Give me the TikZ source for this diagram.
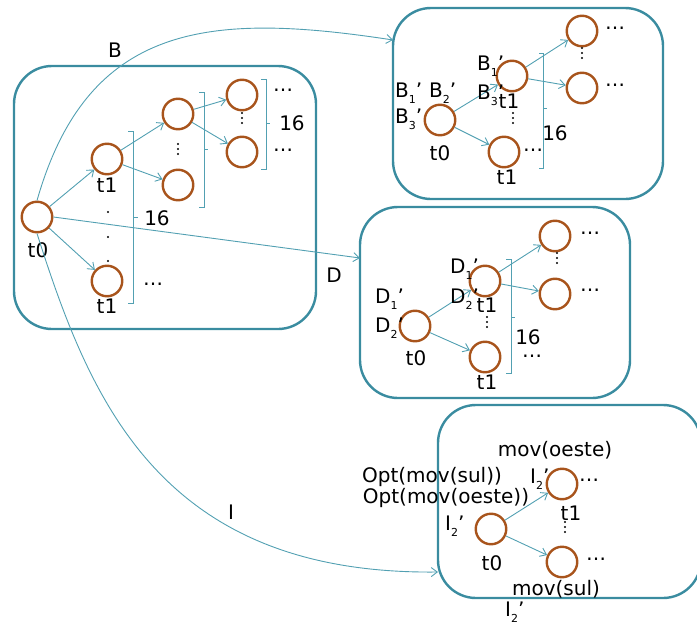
\documentclass[tikz,border=0pt]{standalone}
\usepackage{fontspec}
\setmainfont{DejaVu Sans}
\usetikzlibrary{arrows.meta}

\definecolor{frame}{RGB}{58,140,160}
\definecolor{link}{RGB}{82,160,178}
\definecolor{state}{RGB}{168,84,28}

% small lowered index used in the B, D and I labels
\newcommand\lowsub[1]{\raisebox{-0.32em}{\fontsize{11}{11}\selectfont #1}}

\tikzset{
  txt/.style={font=\fontsize{20}{24}\selectfont, inner sep=0pt},
  panel/.style={draw=frame, line width=2.4pt, rounded corners=38pt, inner sep=0pt},
  st/.style={circle, draw=state, line width=2.4pt, minimum size=30.5pt, inner sep=0pt},
  edge/.style={draw=link, line width=0.9pt, -{Straight Barb[length=6pt,width=9pt]}},
  brk/.style={draw=link, line width=1pt},
  vd/.pic={\fill (0,-5) circle (1.1pt) (0,0) circle (1.1pt) (0,5) circle (1.1pt);}
}

\begin{document}
\begin{tikzpicture}[x=1pt,y=-1pt]
\useasboundingbox (0,0) rectangle (697,624);

% ---------- panels ----------
\node[panel, minimum width=302pt, minimum height=263pt] (p1) at (165,197.5) {};
\node[panel, minimum width=270pt, minimum height=191pt] (p2) at (528,103.5) {};
\node[panel, minimum width=270pt, minimum height=191pt] (p3) at (495,302.5) {};
\node[panel, minimum width=263pt, minimum height=193pt] (p4) at (569.5,501.5) {};

\coordinate (inB) at (393,40);
\coordinate (inD) at (360,258);
\coordinate (inI) at (438,572);

% ---------- first tree ----------
\node[st] (a0) at (37,217) {};
\node[st] (a1) at (107,159) {};
\node[st] (a2) at (107,281) {};
\node[st] (a3) at (178,114) {};
\node[st] (a4) at (178,185) {};
\node[st] (a5) at (242,95) {};
\node[st] (a6) at (242,152) {};

\node[txt] (a0l) at (38,250) {t0};
\node[txt] (a1l) at (107,185) {t1};
\node[txt] (a2l) at (107,306) {t1};

\draw[edge] (a0) -- (a1);
\draw[edge] (a0) -- (a2);
\draw[edge] (a1) -- (a3);
\draw[edge] (a1) -- (a4);
\draw[edge] (a3) -- (a5);
\draw[edge] (a3) -- (a6);

\fill (108,212) circle (1.1pt) (108,237) circle (1.1pt) (108,261) circle (1.1pt);
\pic at (178,149) {vd};
\pic at (242,118) {vd};

\draw[brk] (128,131) -- (133,131) -- (133,303) -- (128,303);
\draw[brk] (133,217) -- (138,217);
\draw[brk] (199,92) -- (204,92) -- (204,207) -- (199,207);
\draw[brk] (204,149) -- (208,149);
\draw[brk] (261,79) -- (266,79) -- (266,169) -- (261,169);
\draw[brk] (266,123) -- (270,123);

\node[txt] (a16a) at (157,218) {16};
\node[txt] (a16b) at (292,123) {16};
\node[txt] (adot1) at (283,90) {…};
\node[txt] (adot2) at (283,150) {…};
\node[txt] (adot3) at (153,284) {…};

% ---------- connectors to the other panels ----------
\draw[edge] (a0.north) .. controls (88,22) and (210,12) .. (inB);
\draw[edge] (a0.east) -- (inD);
\draw[edge] (a0.south) .. controls (90,400) and (160,575) .. (inI);
\node[txt] (lB) at (115,50) {B};
\node[txt] (lD) at (334,275) {D};
\node[txt] (lI) at (231,512) {I};

% ---------- second tree (B) ----------
\node[st] (b0) at (440,120) {};
\node[st] (b1) at (512,76) {};
\node[st] (b2) at (504,152) {};
\node[st] (b3) at (582,31) {};
\node[st] (b4) at (582,88) {};

\node[txt] (b0l) at (440,153) {t0};
\node[txt] (b1l) at (509,101) {t1};
\node[txt] (b2l) at (507,177) {t1};

\draw[edge] (b0) -- (b1);
\draw[edge] (b0) -- (b2);
\draw[edge] (b1) -- (b3);
\draw[edge] (b1) -- (b4);

\pic at (582,53) {vd};
\pic at (513,118) {vd};

\draw[brk] (539,53) -- (543,53) -- (543,168) -- (539,168);
\draw[brk] (543,108) -- (547,108);
\node[txt] (b16) at (555,133) {16};
\node[txt] (bdot1) at (615,28) {…};
\node[txt] (bdot2) at (615,85) {…};
\node[txt] (bdot3) at (533,150) {…};

\node[txt, anchor=base west] (bB1) at (395,97) {B\lowsub{1}'};
\node[txt, anchor=base west] (bB2) at (429,97) {B\lowsub{2}'};
\node[txt, anchor=base west] (bB3) at (395,123) {B\lowsub{3}'};
\node[txt, anchor=base west] (bB1i) at (477,70) {B\lowsub{1}'};
\node[txt, anchor=base west] (bB3i) at (477,99) {B\lowsub{3}'};

% ---------- third tree (D) ----------
\node[st] (c0) at (415,326) {};
\node[st] (c1) at (485,281) {};
\node[st] (c2) at (485,357) {};
\node[st] (c3) at (555,236) {};
\node[st] (c4) at (555,294) {};

\node[txt] (c0l) at (416,358) {t0};
\node[txt] (c1l) at (487,305) {t1};
\node[txt] (c2l) at (487,382) {t1};

\draw[edge] (c0) -- (c1);
\draw[edge] (c0) -- (c2);
\draw[edge] (c1) -- (c3);
\draw[edge] (c1) -- (c4);

\pic at (557,258) {vd};
\pic at (487,322) {vd};

\draw[brk] (506,259) -- (511,259) -- (511,373) -- (506,373);
\draw[brk] (511,317) -- (515,317);
\node[txt] (c16) at (528,337) {16};
\node[txt] (cdot1) at (590,233) {…};
\node[txt] (cdot2) at (590,290) {…};
\node[txt] (cdot3) at (532,356) {…};

\node[txt, anchor=base west] (cD1) at (375,303) {D\lowsub{1}'};
\node[txt, anchor=base west] (cD2) at (375,332) {D\lowsub{2}'};
\node[txt, anchor=base west] (cD1i) at (450,273) {D\lowsub{1}'};
\node[txt, anchor=base west] (cD2i) at (450,303) {D\lowsub{2}'};

% ---------- fourth tree (I) ----------
\node[st] (e0) at (491,529) {};
\node[st] (e1) at (562,484) {};
\node[st] (e2) at (562,562) {};

\node[txt] (e0l) at (492,563) {t0};
\node[txt] (e1l) at (571,513) {t1};

\draw[edge] (e0) -- (e1);
\draw[edge] (e0) -- (e2);

\pic at (565,527) {vd};
\node[txt] (edot1) at (589,480) {…};
\node[txt] (edot2) at (596,559) {…};

\node[txt] (eo) at (555,450) {mov(oeste)};
\node[txt] (eos) at (432,477) {Opt(mov(sul))};
\node[txt] (eoo) at (446,498) {Opt(mov(oeste))};
\node[txt] (es) at (556,589) {mov(sul)};
\node[txt, anchor=base west] (eI0) at (445,530) {I\lowsub{2}'};
\node[txt, anchor=base west] (eI1) at (530,483) {I\lowsub{2}'};
\node[txt, anchor=base west] (eI2) at (505,616) {I\lowsub{2}'};
\end{tikzpicture}
\end{document}
